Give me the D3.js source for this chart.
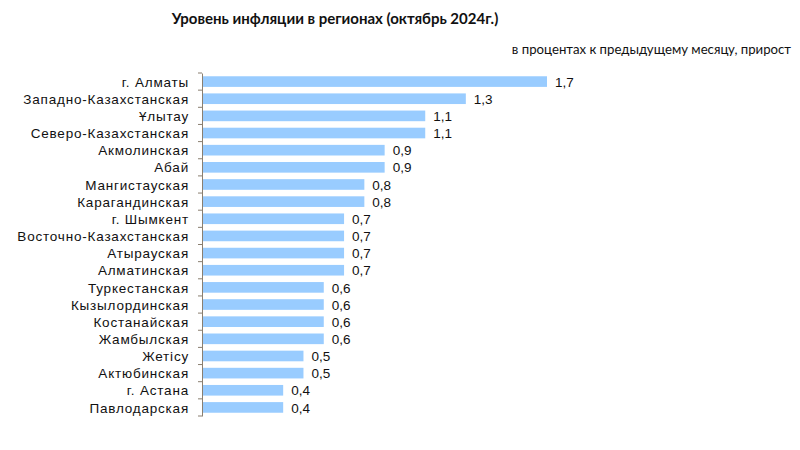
<!DOCTYPE html>
<html><head><meta charset="utf-8">
<script src="https://cdn.jsdelivr.net/npm/d3@7"></script>
<style>body{margin:0;background:#fff}</style>
</head><body>
<svg id="c" width="800" height="450"></svg>
<script>
const categories = ["г. Алматы","Западно-Казахстанская","Ұлытау","Северо-Казахстанская","Акмолинская","Абай","Мангистауская","Карагандинская","г. Шымкент","Восточно-Казахстанская","Атырауская","Алматинская","Туркестанская","Кызылординская","Костанайская","Жамбылская","Жетісу","Актюбинская","г. Астана","Павлодарская"];
const values = [1.7,1.3,1.1,1.1,0.9,0.9,0.8,0.8,0.7,0.7,0.7,0.7,0.6,0.6,0.6,0.6,0.5,0.5,0.4,0.4];
const title = "Уровень инфляции в регионах (октябрь 2024г.)";
const subtitle = "в процентах к предыдущему месяцу, прирост";

const svg = d3.select("#c");
const x = d3.scaleLinear().domain([0,1.7]).range([202,547]);
const y = d3.scaleBand().domain(categories).range([73,416]).paddingInner(0.38).paddingOuter(0.19);

svg.append("text").attr("x",335).attr("y",24).attr("text-anchor","middle")
  .attr("font-family","Lato, 'Open Sans', sans-serif").attr("font-weight","bold").attr("font-size",15)
  .attr("fill","#111").text(title);
svg.append("text").attr("x",791).attr("y",54).attr("text-anchor","end")
  .attr("font-family","Lato, 'Open Sans', sans-serif").attr("font-size",13.2)
  .attr("fill","#111").text(subtitle);

svg.selectAll("rect.bar").data(values).join("rect").attr("class","bar")
  .attr("x",x(0)).attr("y",(d,i)=>y(categories[i])).attr("width",d=>x(d)-x(0))
  .attr("height",y.bandwidth()).attr("fill","#99CCFF");

svg.selectAll("text.val").data(values).join("text").attr("class","val")
  .attr("x",d=>x(d)+8).attr("y",(d,i)=>y(categories[i])+y.bandwidth()/2).attr("dy","0.38em")
  .attr("font-family","'Liberation Sans', Arial, sans-serif").attr("font-size",13.5).attr("fill","#111")
  .text(d=>d.toFixed(1).replace(".",","));

const yAxis = d3.axisLeft(y).tickSize(0).tickPadding(13);
const g = svg.append("g").attr("transform",`translate(${x(0)},0)`).call(yAxis);
g.select(".domain").attr("stroke","#8a7f70");
g.selectAll(".tick text").attr("font-family","'Liberation Sans', Arial, sans-serif").attr("font-size",13.5).attr("fill","#111").attr("letter-spacing","0.8px").attr("dy","0.38em");
// boundary ticks
const bounds = d3.range(categories.length+1).map(i=>73 + i*(343/categories.length));
g.selectAll("line.bt").data(bounds).join("line").attr("class","bt")
  .attr("x1",-4).attr("x2",0).attr("y1",d=>d).attr("y2",d=>d).attr("stroke","#8a7f70");
</script>
</body></html>
